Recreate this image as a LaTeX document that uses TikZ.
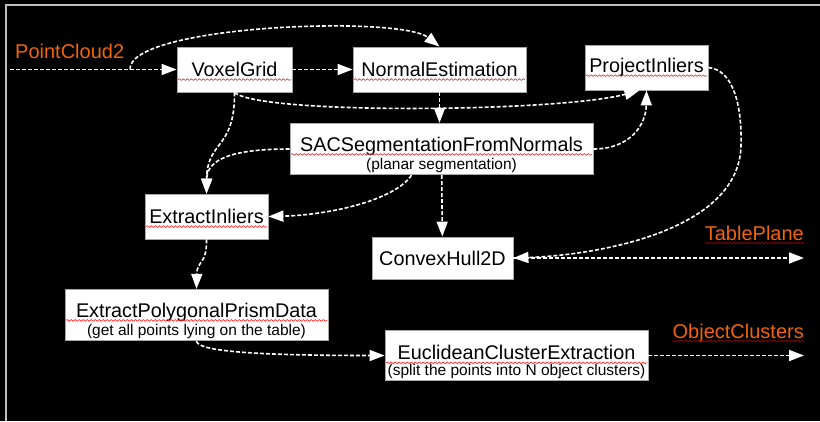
\documentclass[tikz,border=0pt]{standalone}
\usepackage{fontspec}
\setmainfont{Liberation Sans}
\usetikzlibrary{arrows.meta}
\usetikzlibrary{decorations.pathmorphing}

\definecolor{labelorange}{HTML}{F0640A}
\definecolor{framegray}{HTML}{BDBDBD}

% red wavy underline under a word
\newcommand{\squiggle}[2][red!85]{%
  \tikz[baseline=(w.base)]{\node[inner sep=0pt, outer sep=0pt] (w) {#2};
    \draw[overlay, #1, line width=0.6pt, decorate, decoration={snake, amplitude=0.9pt, segment length=4pt}]
      ([yshift=-3pt]w.base west) -- ([yshift=-3pt]w.base east);}}
\newcommand{\notefont}{\fontsize{15.5pt}{17pt}\selectfont}

\tikzset{
  stage/.style={draw=gray!70, line width=0.8pt, fill=white, text=black, inner xsep=1pt, inner ysep=2pt,
    align=center, font=\fontsize{19.8pt}{17pt}\selectfont},
  topic/.style={text=labelorange, inner sep=0pt, font=\fontsize{20pt}{24pt}\selectfont},
  flow/.style={white, line width=1.6pt, dash pattern=on 4pt off 2pt, -{Triangle[length=15pt, width=11pt]}},
}

\begin{document}
\begin{tikzpicture}[x=1pt, y=-1pt]
    \useasboundingbox (0,0) rectangle (820,421);
    \fill[black] (0,0) rectangle (820,421);
    \draw[framegray, line width=1.2pt] (6,421) -- (6,5) -- (820,5);

    \node[stage, minimum width=113pt, minimum height=41pt] (voxel) at (234.5,69.5) {\squiggle{VoxelGrid}};
    \node[stage, minimum width=171pt, minimum height=41pt] (normal) at (439.5,69.5) {\squiggle{NormalEstimation}};
    \node[stage, minimum width=121pt, minimum height=41pt] (project) at (646.5,67.5) {\squiggle{ProjectInliers}};
    \node[stage, minimum width=301pt, minimum height=42pt] (sac) at (441.5,149) {\squiggle{SACSegmentationFromNormals}\\[-10pt]{\notefont (planar segmentation)}};
    \node[stage, minimum width=121pt, minimum height=41pt] (extract) at (206.5,216.5) {\squiggle{ExtractInliers}};
    \node[stage, minimum width=141pt, minimum height=42pt] (hull) at (442.5,258) {ConvexHull2D};
    \node[stage, minimum width=261pt, minimum height=42pt] (prism) at (196.5,315) {\squiggle{ExtractPolygonalPrismData}\\[-10pt]{\notefont (get all points lying on the table)}};
    \node[stage, minimum width=261pt, minimum height=41pt] (cluster) at (516.5,355.5) {\squiggle{EuclideanClusterExtraction}\\[-10pt]{\notefont (split the points into N object clusters)}};

    \node[topic, anchor=base west] (cloud) at (15,58) {PointCloud2};
    \node[topic, anchor=base east] (plane) at (804,240) {\squiggle[red!60!black]{TablePlane}};
    \node[topic, anchor=base east] (objects) at (804,338) {\squiggle[red!60!black]{ObjectClusters}};

    \coordinate (source) at (10,69.5);
    \coordinate (split) at (130,69.5);
    \coordinate (planeout) at (804,258);
    \coordinate (objectsout) at (804,355.5);

    \draw[flow] (source) -- (voxel);
    \draw[flow] (split) .. controls (128,25) and (400,15) .. (normal.north);
    \draw[flow] (voxel) -- (normal);
    \draw[flow] (voxel.south) .. controls (260,115) and (560,112) .. ([xshift=-7pt]project.south);
    \draw[flow] (voxel.south) .. controls (235,150) and (207,140) .. (extract.north);
    \draw[flow] (normal.south) -- (normal.south |- sac.north);
    \draw[flow] (sac.west) .. controls (230,149) and (207,160) .. (extract.north);
    \draw[flow] ([xshift=-30pt]sac.south) .. controls (395,200) and (330,215) .. (extract.east);
    \draw[flow] (sac.east) .. controls (630,149) and (646,125) .. (project.south);
    \draw[flow] (sac) -- (hull);
    \draw[flow] (project.east) .. controls (735,70) and (742,110) .. (741,145) .. controls (740,230) and (600,255) .. (hull.east);
    \draw[flow] (hull) -- (planeout);
    \draw[flow] (extract.south) .. controls (207,265) and (197,260) .. (prism.north);
    \draw[flow] (prism.south) .. controls (198,350) and (240,355.5) .. (cluster.west);
    \draw[flow] (cluster) -- (objectsout);
\end{tikzpicture}
\end{document}
